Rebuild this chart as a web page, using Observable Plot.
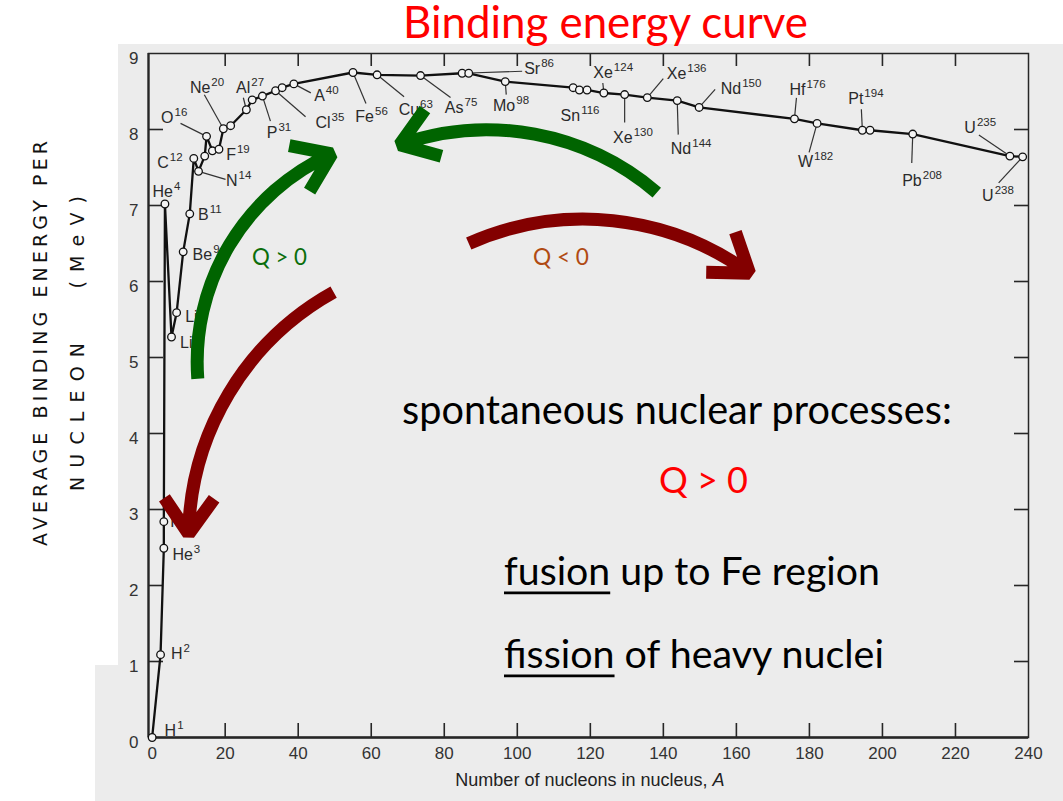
<!DOCTYPE html>
<html><head><meta charset="utf-8">
<script src="https://cdn.jsdelivr.net/npm/d3@7"></script>
<script src="https://cdn.jsdelivr.net/npm/@observablehq/plot@0.6"></script>
<style>
body{margin:0;background:#fff;}
#wrap{position:relative;width:1063px;height:801px;overflow:hidden;}
.bg{position:absolute;background:#ececec;}
#chart{position:absolute;left:0;top:0;}
</style></head><body>
<div id="wrap">
  <div class="bg" style="left:118px;top:44px;right:0;height:622px"></div>
  <div class="bg" style="left:95px;top:665px;right:0;bottom:0"></div>
  <div id="chart"></div>
</div>
<script>
// ---------- data ----------
const isotopeKey = ["H1","H2","He3","H3","He4","Li6","Li7","Be9","B11","C12","N14","n15","O16","n17","F19","Ne20","n22","Al27","n28","P31","Cl35","n37","A40","Fe56","Cu63","As75","Sr86","Sr88","Mo98","Sn116","Sn118","Sn120","Xe124","Xe130","Xe136","Nd144","Nd150","Hf176","W182","Pt194","Pt196","Pb208","U235","U238"];
const massNumberA = [0,2.3,3.2,3.2,3.5,5.3,6.7,8.5,10.3,11.4,12.7,14.4,14.9,16.5,18.3,19.5,21.5,25.8,27.4,30.2,33.8,35.6,38.8,55.0,61.6,73.5,84.9,86.7,96.7,115.3,117.0,119.1,123.7,129.4,135.6,143.8,149.8,175.9,182.1,194.5,196.6,208.3,234.9,238.4];
const bindingPerNucleon = [0,1.09,2.49,2.84,7.02,5.27,5.59,6.39,6.89,7.62,7.45,7.65,7.91,7.72,7.74,8.01,8.05,8.26,8.39,8.44,8.51,8.55,8.60,8.75,8.72,8.71,8.74,8.74,8.63,8.55,8.52,8.52,8.48,8.46,8.42,8.38,8.29,8.14,8.08,7.99,7.99,7.94,7.65,7.64];

const labelOf = ["H1","H2","H3","He3","He4","Li6","Li7","Be9","B11","C12","N14","O16","F19","Ne20","Al27","P31","Cl35","A40","Fe56","Cu63","As75","Sr86","Mo98","Sn116","Xe124","Xe130","Xe136","Nd144","Nd150","Hf176","W182","Pt194","Pb208","U235","U238"];
const labelSymbol = ["H","H","H","He","He","Li","Li","Be","B","C","N","O","F","Ne","Al","P","Cl","A","Fe","Cu","As","Sr","Mo","Sn","Xe","Xe","Xe","Nd","Nd","Hf","W","Pt","Pb","U","U"];
const labelMass = ["1","2","3","3","4","6","7","9","11","12","14","16","19","20","27","31","35","40","56","63","75","86","98","116","124","130","136","144","150","176","182","194","208","235","238"];

const xTicks = [0,20,40,60,80,100,120,140,160,180,200,220,240];
const yTicks = [0,1,2,3,4,5,6,7,8,9];

// overlay arrows (fusion / fission), data coordinates
const arrowKind  = ["fusion","fusion","fission","fission"];
const arrowFromA = [138.2, 12.5, 86.7, 49.7];
const arrowFromB = [7.17, 4.72, 6.50, 5.86];
const arrowToA   = [67.8, 49.2, 163.6, 10.0];
const arrowToB   = [7.80, 7.68, 6.11, 2.68];

const noteText = ["Binding energy curve","spontaneous nuclear processes:","Q > 0","fusion up to Fe region","fission of heavy nuclei","Q > 0","Q < 0"];

// ---------- layout / style ----------
const W = 1063, H = 801, mL = 148, mR = 35, mT = 53, mB = 64;
const xDomain = [-1, 240], yDomain = [0, 9];
const frameW = W - mL - mR, frameH = H - mT - mB;
// label junction (end of symbol, baseline) and leader end, px offsets from the point
const labelLayout = {
  H1:[[24,-2],null], H2:[[22,4],null], H3:[[18,5],null], He3:[[29,12],null], He4:[[8,-7],null],
  Li6:[[21,11],null], Li7:[[21,9],null], Be9:[[29,8],null], B11:[[19,6],null], C12:[[-25,10],null],
  N14:[[39,15],[27,8]], O16:[[-33,-13],[-26,-13]], F19:[[17,11],null], Ne20:[[-13,-36],[-19,-34]],
  Al27:[[4,-17],[-3,-12]], P31:[[15,42],[8,25]], Cl35:[[55,37],[30,26]], A40:[[31,17],[17,9]],
  Fe56:[[21,49],[13,31]], Cu63:[[42,40],[27,22]], As75:[[43,37],[30,22]], Sr86:[[78,1],[60,-2]],
  Mo98:[[10,29],[1,13]], Sn116:[[7,33],null], Xe124:[[9,-15],[-1,-10]], Xe130:[[8,48],[0,28]],
  Xe136:[[39,-19],[16,-19]], Nd144:[[14,53],[1,34]], Nd150:[[42,-13],[16,-18]], Hf176:[[11,-24],[2,-21]],
  W182:[[-4,44],[-8,29]], Pt194:[[1,-26],[-1,-21]], Pb208:[[9,52],[-1,29]], U235:[[-34,-23],[-31,-21]],
  U238:[[-29,44],[-24,26]]
};
const arrowBend = [-30, 35, 30, -30];
const arrowColor = {fusion: "#006400", fission: "#830000"};
const noteLayout = [[403,38,405],[402,424,550],[659,493,89],[504,585,376],[504,668,380],[252,265,55],[533,265,56]];
const noteColor = ["#ff0000","#000","#ff0000","#000","#000","#0b6e0b","#b04a12"];
const noteUnderline = [0,0,0,6,7,0,0];
const yTitleLength = {ytitle1: 405, ytitle2: 295};
const ink = "#262626";
const fontLib = "'Liberation Sans', Arial, sans-serif";

// ---------- build ----------
const pts = isotopeKey.map((k, i) => ({key: k, A: massNumberA[i], B: bindingPerNucleon[i]}));
const byKey = Object.fromEntries(pts.map(p => [p.key, p]));
const xs = Plot.scale({x: {domain: xDomain, range: [mL, W - mR]}});
const ys = Plot.scale({y: {domain: yDomain, range: [H - mB, mT]}});
const shiftA = (a, dx) => xs.invert(xs.apply(a) + dx);
const shiftB = (b, dy) => ys.invert(ys.apply(b) + dy);

const labels = labelOf.map((k, i) => {
  const p = byKey[k], [j] = labelLayout[k];
  return {sym: labelSymbol[i], mass: labelMass[i], jA: shiftA(p.A, j[0]), jB: shiftB(p.B, j[1])};
});
const leaders = labelOf.filter(k => labelLayout[k][1]).map(k => {
  const p = byKey[k], l = labelLayout[k][1];
  return {A: p.A, B: p.B, A2: shiftA(p.A, l[0]), B2: shiftB(p.B, l[1])};
});
const arrows = arrowKind.map((k, i) => ({kind: k, A1: arrowFromA[i], B1: arrowFromB[i], A2: arrowToA[i], B2: arrowToB[i], bend: arrowBend[i]}));
const inner = a => a.slice(1, -1);

const chart = Plot.plot({
  width: W, height: H, marginLeft: mL, marginRight: mR, marginTop: mT, marginBottom: mB,
  style: {background: "transparent", fontFamily: fontLib, overflow: "visible"},
  x: {domain: xDomain, axis: null},
  y: {domain: yDomain, axis: null},
  marks: [
    Plot.frame({stroke: ink, strokeWidth: 1.5}),
    Plot.ruleY([0], {stroke: ink, strokeWidth: 2.4}),
    Plot.ruleX([xDomain[0]], {stroke: ink, strokeWidth: 2.2}),
    Plot.tickX(inner(xTicks), {x: d => d, insetTop: frameH - 14, stroke: ink, strokeWidth: 1.6}),
    Plot.tickX(inner(xTicks), {x: d => d, insetBottom: frameH - 13, stroke: ink, strokeWidth: 1.6}),
    Plot.tickY(inner(yTicks), {y: d => d, insetRight: frameW - 15, stroke: ink, strokeWidth: 1.6}),
    Plot.tickY(inner(yTicks), {y: d => d, insetLeft: frameW - 14, stroke: ink, strokeWidth: 1.6}),
    Plot.text(xTicks, {x: d => d, text: d => String(d), frameAnchor: "bottom", lineAnchor: "top", dy: 9, fontSize: 17, fill: "#333", fontFamily: fontLib}),
    Plot.text(yTicks, {y: d => d, text: d => String(d), frameAnchor: "left", textAnchor: "end", dx: -10, dy: 5, fontSize: 17, fill: "#333", fontFamily: fontLib}),
    Plot.text(["Number of nucleons in nucleus,"], {text: d => d, frameAnchor: "bottom", textAnchor: "end", lineAnchor: "bottom", dx: 119, dy: 48, fontSize: 18, fill: "#222", fontFamily: fontLib}),
    Plot.text(["A"], {text: d => d, frameAnchor: "bottom", textAnchor: "start", lineAnchor: "bottom", dx: 124, dy: 48, fontSize: 18, fontStyle: "italic", fill: "#222", fontFamily: fontLib}),
    Plot.text(["AVERAGE BINDING ENERGY PER"], {text: d => d, frameAnchor: "left", textAnchor: "middle", rotate: -90, dx: -108, dy: -52, fontSize: 19, fill: "#111", fontFamily: "'DejaVu Sans', sans-serif", className: "ytitle1"}),
    Plot.text(["NUCLEON   (MeV)"], {text: d => d, frameAnchor: "left", textAnchor: "middle", rotate: -90, dx: -71, dy: -52, fontSize: 19, fill: "#111", fontFamily: "'DejaVu Sans', sans-serif", className: "ytitle2"}),
    Plot.link(leaders, {x1: "A", y1: "B", x2: "A2", y2: "B2", stroke: "#333", strokeWidth: 1.2}),
    Plot.line(pts, {x: "A", y: "B", stroke: "#111", strokeWidth: 2.3}),
    Plot.dot(pts, {x: "A", y: "B", r: 3.8, fill: "#f4f4f4", stroke: "#111", strokeWidth: 1.3}),
    Plot.text(labels, {x: "jA", y: "jB", text: "sym", textAnchor: "end", lineAnchor: "bottom", fontSize: 16, fill: "#2a2a2a", fontFamily: fontLib}),
    Plot.text(labels, {x: "jA", y: "jB", text: "mass", textAnchor: "start", lineAnchor: "bottom", dx: 1, dy: -7, fontSize: 11.5, fill: "#2a2a2a", fontFamily: fontLib}),
    ...arrows.map(a => Plot.arrow([a], {x1: "A1", y1: "B1", x2: "A2", y2: "B2", bend: a.bend, stroke: arrowColor[a.kind], strokeWidth: 13, headLength: 5, headAngle: 70, strokeLinejoin: "miter", strokeLinecap: "butt"}))
  ]
});
document.getElementById("chart").append(chart);

// y title: stretch the spacing like the wide original lettering
Object.entries(yTitleLength).forEach(([cls, target]) => {
  d3.select(chart).selectAll(`.${cls} text`)
    .attr("textLength", target).attr("lengthAdjust", "spacing").style("white-space", "pre");
});

// slide annotations
const ann = d3.select(chart).append("g").attr("font-family", "Lato, 'Open Sans', sans-serif").attr("text-anchor", "start");
noteText.forEach((t, i) => {
  const [x, y, w] = noteLayout[i];
  const el = ann.append("text").attr("x", x).attr("y", y).attr("fill", noteColor[i]).attr("font-size", 40).style("white-space", "pre").text(t);
  const fs = 40 * w / el.node().getComputedTextLength();
  el.attr("font-size", fs);
  if (noteUnderline[i]) {
    const ul = el.node().getSubStringLength(0, noteUnderline[i]);
    ann.append("line").attr("x1", x).attr("x2", x + ul).attr("y1", y + fs * 0.2).attr("y2", y + fs * 0.2)
      .attr("stroke", noteColor[i]).attr("stroke-width", Math.max(2, fs * 0.07));
  }
});
</script>
</body></html>
